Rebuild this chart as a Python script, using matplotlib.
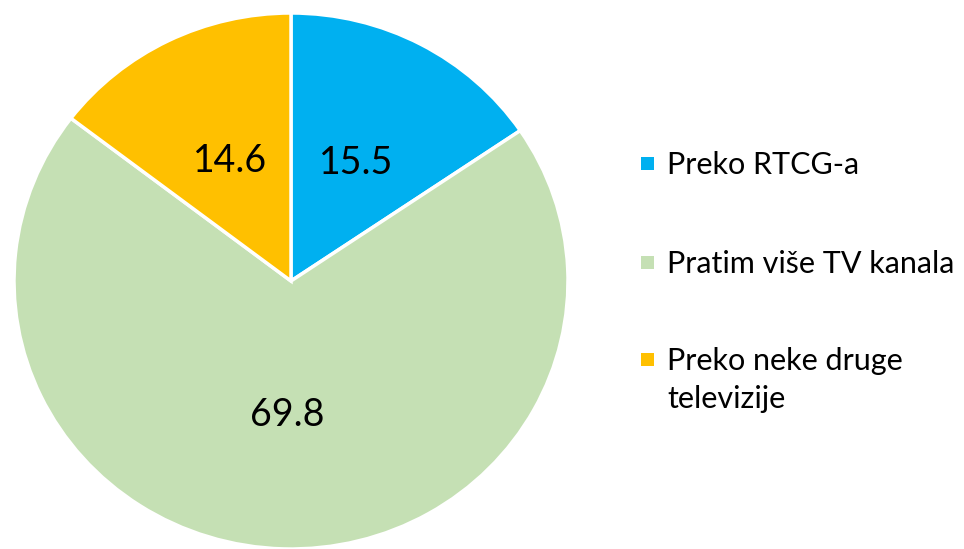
import matplotlib
matplotlib.use("Agg")
import matplotlib.pyplot as plt
from matplotlib.patches import Rectangle

categories = ["Preko RTCG-a", "Pratim više TV kanala", "Preko neke druge\ntelevizije"]
values = [15.5, 69.8, 14.6]
colors = ["#00B0F0", "#C5E0B4", "#FFC000"]

plt.rcParams['font.family'] = ['Lato', 'DejaVu Sans']

W, H = 964, 549
fig = plt.figure(figsize=(W / 100, H / 100), dpi=100)
ax = fig.add_axes([14 / W, 0 / H, 554 / W, 536 / H])

total = sum(values)
wedges, texts, autotexts = ax.pie(
    values, colors=colors, startangle=90, counterclock=False,
    autopct=lambda p: f"{p * total / 100:.1f}", pctdistance=0.5,
    wedgeprops=dict(edgecolor="white", linewidth=2.5),
    textprops=dict(fontsize=27, color="black"),
    radius=1.0,
)
ax.set_aspect('auto')
ax.set_xlim(-1, 1)
ax.set_ylim(-1, 1)
for w in wedges:
    w.set_clip_on(False)

# manual legend: pixel row of each square top and of each entry's first-line top
square_tops = [157, 256, 353]
text_tops = [151, 250, 347]
for cat, col, sq, tt in zip(categories, colors, square_tops, text_tops):
    fig.patches.append(Rectangle((641 / W, 1 - (sq + 13) / H), 13 / W, 13 / H,
                                 transform=fig.transFigure, facecolor=col,
                                 edgecolor="none"))
    fig.text(667 / W, 1 - tt / H, cat, fontsize=22, color="black",
             ha="left", va="top", linespacing=1.42)

fig.savefig("out.png", dpi=100)
